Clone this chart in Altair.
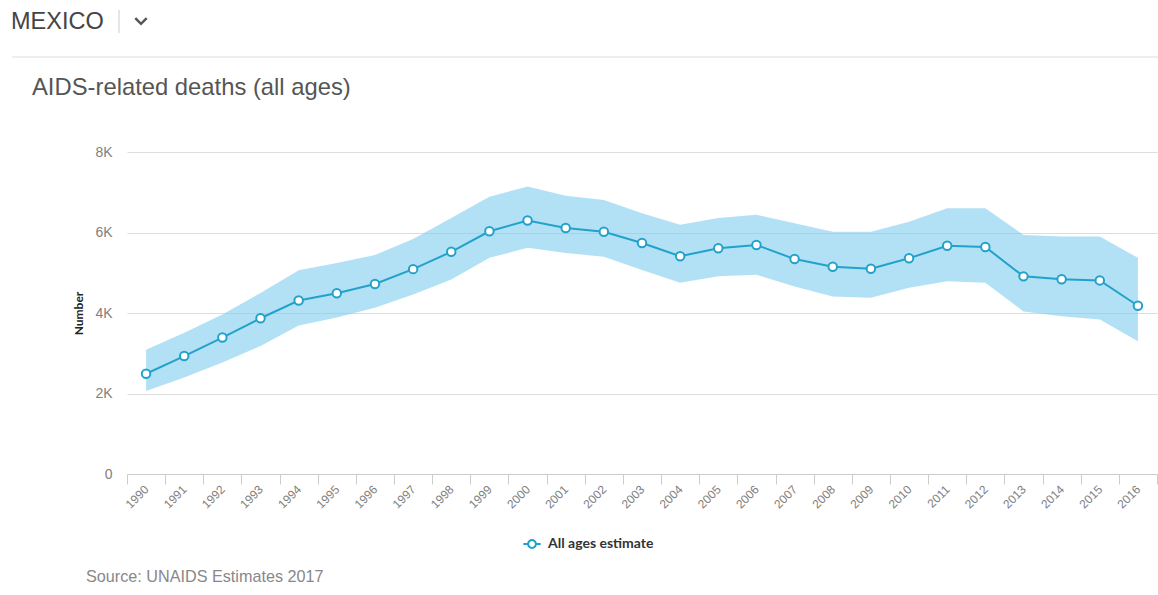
import altair as alt
import pandas as pd

# AIDS-related deaths, Mexico, all ages (UNAIDS 2017 estimates)
years = [str(y) for y in range(1990, 2017)]
estimate = [2490, 2930, 3390, 3870, 4310, 4490, 4720, 5090, 5520, 6030, 6300,
            6110, 6020, 5740, 5410, 5610, 5690, 5340, 5150, 5100, 5360, 5670,
            5640, 4910, 4840, 4810, 4180]
upper = [3090, 3510, 3960, 4500, 5060, 5240, 5440, 5840, 6360, 6890, 7140,
         6910, 6810, 6480, 6190, 6360, 6440, 6230, 6020, 6020, 6270, 6600,
         6600, 5940, 5900, 5900, 5370]
lower = [2060, 2400, 2770, 3180, 3690, 3890, 4130, 4460, 4830, 5370, 5620,
         5490, 5400, 5070, 4750, 4910, 4950, 4660, 4410, 4380, 4630, 4790,
         4750, 4040, 3920, 3840, 3300]
series_name = "All ages estimate"
y_ticks = [0, 2000, 4000, 6000, 8000]

TEAL = "#22a2cb"
BAND = "#7fcdee"
SANS = "Liberation Sans, Arial, sans-serif"

df = pd.DataFrame({
    "year": years,
    "estimate": estimate,
    "upper": upper,
    "lower": lower,
    "series": series_name,
})

x_enc = alt.X(
    "year:O",
    bandPosition=0.5,
    scale=alt.Scale(type="band", paddingInner=0, paddingOuter=0),
    axis=alt.Axis(
        title=None,
        tickBand="extent",
        tickSize=10,
        tickColor="#cccccc",
        domainColor="#cccccc",
        labelAngle=315,
        labelAlign="right",
        labelBaseline="middle",
        labelPadding=3,
        labelFontSize=12,
        labelFont=SANS,
        labelColor="#808080",
        grid=False,
    ),
)

y_scale = alt.Scale(domain=[0, 8000], nice=False)
y_axis = alt.Axis(
    title="Number",
    titleFont="Lato",
    titleFontWeight="bold",
    titleFontSize=12,
    titleColor="#222222",
    titlePadding=9,
    values=y_ticks,
    labelExpr="datum.value == 0 ? '0' : format(datum.value / 1000, 'd') + 'K'",
    labelFontSize=14,
    labelFont=SANS,
    labelColor="#808080",
    labelPadding=15,
    ticks=False,
    domain=False,
    gridColor="#dddddd",
)

legend = alt.Legend(
    title=None,
    orient="none",
    legendX=395,
    legendY=382,
    symbolType="M-1,0L-0.45,0M0.45,0L1,0M0.45,0A0.45,0.45,0,1,1,-0.45,0A0.45,0.45,0,1,1,0.45,0",
    symbolSize=300,
    symbolStrokeWidth=2,
    symbolFillColor="white",
    labelFont="Lato",
    labelFontWeight="bold",
    labelFontSize=14,
    labelColor="#333333",
    labelOffset=6,
)
color_enc = alt.Color("series:N", scale=alt.Scale(range=[TEAL]), legend=legend)

base = alt.Chart(df)

band = base.mark_area(color=BAND, opacity=0.6).encode(
    x=x_enc,
    y=alt.Y("lower:Q", scale=y_scale, axis=y_axis),
    y2="upper:Q",
)

line = base.mark_line(strokeWidth=2).encode(
    x=x_enc,
    y=alt.Y("estimate:Q", scale=y_scale),
    color=color_enc,
)

points = base.mark_point(filled=False, fill="white", strokeWidth=2, size=72, opacity=1).encode(
    x=x_enc,
    y=alt.Y("estimate:Q", scale=y_scale),
    color=color_enc,
)


def label(text, x, y, size, color, weight="normal", baseline="alphabetic"):
    return alt.Chart(alt.Data(values=[{"t": text}])).mark_text(
        align="left", baseline=baseline, font=SANS, fontSize=size,
        color=color, fontWeight=weight,
    ).encode(text="t:N", x=alt.value(x), y=alt.value(y))


one = alt.Data(values=[{}])

header = label("MEXICO", -116, -123, 23.5, "#444444")
separator = alt.Chart(one).mark_rule(color="#cccccc", strokeWidth=1).encode(
    x=alt.value(-8), y=alt.value(-142), y2=alt.value(-119)
)
chevron = alt.Chart(one).mark_point(
    shape="M-1,-0.5L0,0.5L1,-0.5", filled=False, color="#555555",
    strokeWidth=2.5, size=130, opacity=1,
).encode(x=alt.value(14), y=alt.value(-131))
divider = alt.Chart(one).mark_rule(color="#dddddd", strokeWidth=1).encode(
    x=alt.value(-115), x2=alt.value(1031), y=alt.value(-95)
)
title = label("AIDS-related deaths (all ages)", -95, -57, 23.8, "#555555")
source = label("Source: UNAIDS Estimates 2017", -41, 425, 16.2, "#888888", baseline="middle")

chart = alt.layer(
    band, line, points, header, separator, chevron, divider, title, source
).properties(
    width=1030,
    height=322,
    autosize=alt.AutoSizeParams(type="none"),
    padding={"left": 127, "top": 152, "right": 1, "bottom": 121},
    background="white",
).configure_view(stroke=None)

chart.save("out.html", embed_options={"renderer": "svg", "actions": False})
